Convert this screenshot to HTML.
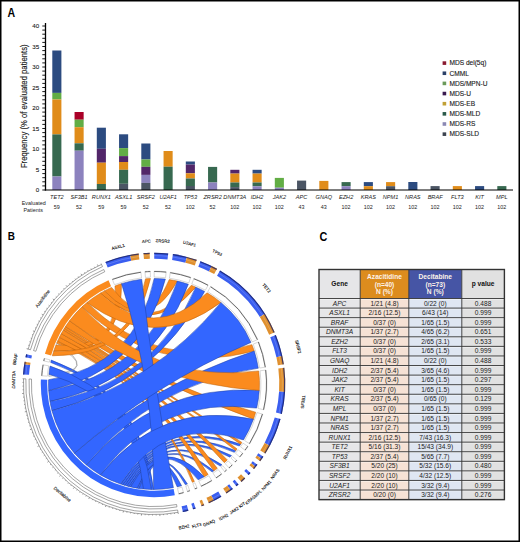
<!DOCTYPE html>
<html><head><meta charset="utf-8"><style>
html,body{margin:0;padding:0;background:#fff;}
#c{position:relative;width:520px;height:542px;overflow:hidden;background:#fff;}
svg{display:block;font-family:"Liberation Sans", sans-serif;}
</style></head><body><div id="c">
<svg width="520" height="542" viewBox="0 0 520 542">
<rect x="0" y="0" width="520" height="542" fill="#fff"/>
<text transform="translate(7.6,16.8) scale(0.88,1)" font-size="12" font-weight="bold" fill="#000">A</text>
<rect x="52.30" y="50.50" width="9.1" height="42.40" fill="#2c4b80"/>
<rect x="52.30" y="92.90" width="9.1" height="6.60" fill="#62ad45"/>
<rect x="52.30" y="99.50" width="9.1" height="34.90" fill="#e08c1a"/>
<rect x="52.30" y="134.40" width="9.1" height="42.10" fill="#376950"/>
<rect x="52.30" y="176.50" width="9.1" height="13.50" fill="#8c82be"/>
<text x="56.85" y="199" font-size="5.6" font-style="italic" text-anchor="middle" fill="#222">TET2</text>
<text x="56.85" y="209" font-size="5.4" text-anchor="middle" fill="#222">59</text>
<rect x="74.55" y="112.00" width="9.1" height="7.70" fill="#aa0028"/>
<rect x="74.55" y="119.70" width="9.1" height="7.50" fill="#62ad45"/>
<rect x="74.55" y="127.20" width="9.1" height="16.10" fill="#e08c1a"/>
<rect x="74.55" y="143.30" width="9.1" height="7.40" fill="#376950"/>
<rect x="74.55" y="150.70" width="9.1" height="39.30" fill="#8c82be"/>
<text x="79.10" y="199" font-size="5.6" font-style="italic" text-anchor="middle" fill="#222">SF3B1</text>
<text x="79.10" y="209" font-size="5.4" text-anchor="middle" fill="#222">52</text>
<rect x="96.80" y="127.70" width="9.1" height="21.10" fill="#2c4b80"/>
<rect x="96.80" y="148.80" width="9.1" height="13.90" fill="#522669"/>
<rect x="96.80" y="162.70" width="9.1" height="21.30" fill="#e08c1a"/>
<rect x="96.80" y="184.00" width="9.1" height="6.00" fill="#376950"/>
<text x="101.35" y="199" font-size="5.6" font-style="italic" text-anchor="middle" fill="#222">RUNX1</text>
<text x="101.35" y="209" font-size="5.4" text-anchor="middle" fill="#222">59</text>
<rect x="119.05" y="134.30" width="9.1" height="13.80" fill="#2c4b80"/>
<rect x="119.05" y="148.10" width="9.1" height="8.00" fill="#62ad45"/>
<rect x="119.05" y="156.10" width="9.1" height="5.90" fill="#522669"/>
<rect x="119.05" y="162.00" width="9.1" height="7.80" fill="#e08c1a"/>
<rect x="119.05" y="169.80" width="9.1" height="14.00" fill="#376950"/>
<rect x="119.05" y="183.80" width="9.1" height="6.20" fill="#4b5564"/>
<text x="123.60" y="199" font-size="5.6" font-style="italic" text-anchor="middle" fill="#222">ASXL1</text>
<text x="123.60" y="209" font-size="5.4" text-anchor="middle" fill="#222">59</text>
<rect x="141.30" y="143.50" width="9.1" height="16.00" fill="#2c4b80"/>
<rect x="141.30" y="159.50" width="9.1" height="7.30" fill="#62ad45"/>
<rect x="141.30" y="166.80" width="9.1" height="8.10" fill="#522669"/>
<rect x="141.30" y="174.90" width="9.1" height="8.00" fill="#8c82be"/>
<rect x="141.30" y="182.90" width="9.1" height="7.10" fill="#4b5564"/>
<text x="145.85" y="199" font-size="5.6" font-style="italic" text-anchor="middle" fill="#222">SRSF2</text>
<text x="145.85" y="209" font-size="5.4" text-anchor="middle" fill="#222">52</text>
<rect x="163.55" y="151.00" width="9.1" height="15.70" fill="#e08c1a"/>
<rect x="163.55" y="166.70" width="9.1" height="23.30" fill="#376950"/>
<text x="168.10" y="199" font-size="5.6" font-style="italic" text-anchor="middle" fill="#222">U2AF1</text>
<text x="168.10" y="209" font-size="5.4" text-anchor="middle" fill="#222">52</text>
<rect x="185.80" y="161.50" width="9.1" height="3.10" fill="#2c4b80"/>
<rect x="185.80" y="164.60" width="9.1" height="8.70" fill="#522669"/>
<rect x="185.80" y="173.30" width="9.1" height="5.20" fill="#e08c1a"/>
<rect x="185.80" y="178.50" width="9.1" height="7.50" fill="#376950"/>
<rect x="185.80" y="186.00" width="9.1" height="4.00" fill="#4b5564"/>
<text x="190.35" y="199" font-size="5.6" font-style="italic" text-anchor="middle" fill="#222">TP53</text>
<text x="190.35" y="209" font-size="5.4" text-anchor="middle" fill="#222">102</text>
<rect x="208.05" y="166.90" width="9.1" height="15.60" fill="#376950"/>
<rect x="208.05" y="182.50" width="9.1" height="7.50" fill="#8c82be"/>
<text x="212.60" y="199" font-size="5.6" font-style="italic" text-anchor="middle" fill="#222">ZRSR2</text>
<text x="212.60" y="209" font-size="5.4" text-anchor="middle" fill="#222">52</text>
<rect x="230.30" y="169.80" width="9.1" height="3.80" fill="#522669"/>
<rect x="230.30" y="173.60" width="9.1" height="8.90" fill="#e08c1a"/>
<rect x="230.30" y="182.50" width="9.1" height="4.60" fill="#376950"/>
<rect x="230.30" y="187.10" width="9.1" height="2.90" fill="#4b5564"/>
<text x="234.85" y="199" font-size="5.6" font-style="italic" text-anchor="middle" fill="#222">DNMT3A</text>
<text x="234.85" y="209" font-size="5.4" text-anchor="middle" fill="#222">102</text>
<rect x="252.55" y="169.80" width="9.1" height="3.80" fill="#2c4b80"/>
<rect x="252.55" y="173.60" width="9.1" height="8.90" fill="#e08c1a"/>
<rect x="252.55" y="182.50" width="9.1" height="3.80" fill="#376950"/>
<rect x="252.55" y="186.30" width="9.1" height="3.70" fill="#8c82be"/>
<text x="257.10" y="199" font-size="5.6" font-style="italic" text-anchor="middle" fill="#222">IDH2</text>
<text x="257.10" y="209" font-size="5.4" text-anchor="middle" fill="#222">102</text>
<rect x="274.80" y="177.90" width="9.1" height="9.80" fill="#62ad45"/>
<rect x="274.80" y="187.70" width="9.1" height="2.30" fill="#8c82be"/>
<text x="279.35" y="199" font-size="5.6" font-style="italic" text-anchor="middle" fill="#222">JAK2</text>
<text x="279.35" y="209" font-size="5.4" text-anchor="middle" fill="#222">102</text>
<rect x="297.05" y="180.60" width="9.1" height="9.40" fill="#4b5564"/>
<text x="301.60" y="199" font-size="5.6" font-style="italic" text-anchor="middle" fill="#222">APC</text>
<text x="301.60" y="209" font-size="5.4" text-anchor="middle" fill="#222">43</text>
<rect x="319.30" y="180.90" width="9.1" height="9.10" fill="#e08c1a"/>
<text x="323.85" y="199" font-size="5.6" font-style="italic" text-anchor="middle" fill="#222">GNAQ</text>
<text x="323.85" y="209" font-size="5.4" text-anchor="middle" fill="#222">43</text>
<rect x="341.55" y="182.10" width="9.1" height="4.10" fill="#376950"/>
<rect x="341.55" y="186.20" width="9.1" height="3.80" fill="#8c82be"/>
<text x="346.10" y="199" font-size="5.6" font-style="italic" text-anchor="middle" fill="#222">EZH2</text>
<text x="346.10" y="209" font-size="5.4" text-anchor="middle" fill="#222">102</text>
<rect x="363.80" y="182.10" width="9.1" height="4.10" fill="#2c4b80"/>
<rect x="363.80" y="186.20" width="9.1" height="3.80" fill="#e08c1a"/>
<text x="368.35" y="199" font-size="5.6" font-style="italic" text-anchor="middle" fill="#222">KRAS</text>
<text x="368.35" y="209" font-size="5.4" text-anchor="middle" fill="#222">102</text>
<rect x="386.05" y="182.10" width="9.1" height="4.10" fill="#e08c1a"/>
<rect x="386.05" y="186.20" width="9.1" height="3.80" fill="#4b5564"/>
<text x="390.60" y="199" font-size="5.6" font-style="italic" text-anchor="middle" fill="#222">NPM1</text>
<text x="390.60" y="209" font-size="5.4" text-anchor="middle" fill="#222">102</text>
<rect x="408.30" y="182.00" width="9.1" height="8.00" fill="#2c4b80"/>
<text x="412.85" y="199" font-size="5.6" font-style="italic" text-anchor="middle" fill="#222">NRAS</text>
<text x="412.85" y="209" font-size="5.4" text-anchor="middle" fill="#222">102</text>
<rect x="430.55" y="186.10" width="9.1" height="3.90" fill="#4b5564"/>
<text x="435.10" y="199" font-size="5.6" font-style="italic" text-anchor="middle" fill="#222">BRAF</text>
<text x="435.10" y="209" font-size="5.4" text-anchor="middle" fill="#222">102</text>
<rect x="452.80" y="186.10" width="9.1" height="3.90" fill="#e08c1a"/>
<text x="457.35" y="199" font-size="5.6" font-style="italic" text-anchor="middle" fill="#222">FLT3</text>
<text x="457.35" y="209" font-size="5.4" text-anchor="middle" fill="#222">102</text>
<rect x="475.05" y="186.10" width="9.1" height="3.90" fill="#2c4b80"/>
<text x="479.60" y="199" font-size="5.6" font-style="italic" text-anchor="middle" fill="#222">KIT</text>
<text x="479.60" y="209" font-size="5.4" text-anchor="middle" fill="#222">102</text>
<rect x="497.30" y="186.10" width="9.1" height="3.90" fill="#376950"/>
<text x="501.85" y="199" font-size="5.6" font-style="italic" text-anchor="middle" fill="#222">MPL</text>
<text x="501.85" y="209" font-size="5.4" text-anchor="middle" fill="#222">102</text>
<line x1="45.5" y1="23" x2="45.5" y2="190.5" stroke="#000" stroke-width="1.3"/>
<line x1="44.8" y1="190" x2="513" y2="190" stroke="#000" stroke-width="1.1"/>
<line x1="42.3" y1="190.00" x2="45.5" y2="190.00" stroke="#000" stroke-width="0.9"/>
<text x="39.1" y="192.10" font-size="6.2" text-anchor="end" fill="#1a1a1a" stroke="#1a1a1a" stroke-width="0.1">0</text>
<line x1="42.3" y1="185.90" x2="45.5" y2="185.90" stroke="#000" stroke-width="0.9"/>
<line x1="42.3" y1="181.80" x2="45.5" y2="181.80" stroke="#000" stroke-width="0.9"/>
<line x1="42.3" y1="177.70" x2="45.5" y2="177.70" stroke="#000" stroke-width="0.9"/>
<line x1="42.3" y1="173.60" x2="45.5" y2="173.60" stroke="#000" stroke-width="0.9"/>
<line x1="42.3" y1="169.50" x2="45.5" y2="169.50" stroke="#000" stroke-width="0.9"/>
<text x="39.1" y="171.60" font-size="6.2" text-anchor="end" fill="#1a1a1a" stroke="#1a1a1a" stroke-width="0.1">5</text>
<line x1="42.3" y1="165.40" x2="45.5" y2="165.40" stroke="#000" stroke-width="0.9"/>
<line x1="42.3" y1="161.30" x2="45.5" y2="161.30" stroke="#000" stroke-width="0.9"/>
<line x1="42.3" y1="157.20" x2="45.5" y2="157.20" stroke="#000" stroke-width="0.9"/>
<line x1="42.3" y1="153.10" x2="45.5" y2="153.10" stroke="#000" stroke-width="0.9"/>
<line x1="42.3" y1="149.00" x2="45.5" y2="149.00" stroke="#000" stroke-width="0.9"/>
<text x="39.1" y="151.10" font-size="6.2" text-anchor="end" fill="#1a1a1a" stroke="#1a1a1a" stroke-width="0.1">10</text>
<line x1="42.3" y1="144.90" x2="45.5" y2="144.90" stroke="#000" stroke-width="0.9"/>
<line x1="42.3" y1="140.80" x2="45.5" y2="140.80" stroke="#000" stroke-width="0.9"/>
<line x1="42.3" y1="136.70" x2="45.5" y2="136.70" stroke="#000" stroke-width="0.9"/>
<line x1="42.3" y1="132.60" x2="45.5" y2="132.60" stroke="#000" stroke-width="0.9"/>
<line x1="42.3" y1="128.50" x2="45.5" y2="128.50" stroke="#000" stroke-width="0.9"/>
<text x="39.1" y="130.60" font-size="6.2" text-anchor="end" fill="#1a1a1a" stroke="#1a1a1a" stroke-width="0.1">15</text>
<line x1="42.3" y1="124.40" x2="45.5" y2="124.40" stroke="#000" stroke-width="0.9"/>
<line x1="42.3" y1="120.30" x2="45.5" y2="120.30" stroke="#000" stroke-width="0.9"/>
<line x1="42.3" y1="116.20" x2="45.5" y2="116.20" stroke="#000" stroke-width="0.9"/>
<line x1="42.3" y1="112.10" x2="45.5" y2="112.10" stroke="#000" stroke-width="0.9"/>
<line x1="42.3" y1="108.00" x2="45.5" y2="108.00" stroke="#000" stroke-width="0.9"/>
<text x="39.1" y="110.10" font-size="6.2" text-anchor="end" fill="#1a1a1a" stroke="#1a1a1a" stroke-width="0.1">20</text>
<line x1="42.3" y1="103.90" x2="45.5" y2="103.90" stroke="#000" stroke-width="0.9"/>
<line x1="42.3" y1="99.80" x2="45.5" y2="99.80" stroke="#000" stroke-width="0.9"/>
<line x1="42.3" y1="95.70" x2="45.5" y2="95.70" stroke="#000" stroke-width="0.9"/>
<line x1="42.3" y1="91.60" x2="45.5" y2="91.60" stroke="#000" stroke-width="0.9"/>
<line x1="42.3" y1="87.50" x2="45.5" y2="87.50" stroke="#000" stroke-width="0.9"/>
<text x="39.1" y="89.60" font-size="6.2" text-anchor="end" fill="#1a1a1a" stroke="#1a1a1a" stroke-width="0.1">25</text>
<line x1="42.3" y1="83.40" x2="45.5" y2="83.40" stroke="#000" stroke-width="0.9"/>
<line x1="42.3" y1="79.30" x2="45.5" y2="79.30" stroke="#000" stroke-width="0.9"/>
<line x1="42.3" y1="75.20" x2="45.5" y2="75.20" stroke="#000" stroke-width="0.9"/>
<line x1="42.3" y1="71.10" x2="45.5" y2="71.10" stroke="#000" stroke-width="0.9"/>
<line x1="42.3" y1="67.00" x2="45.5" y2="67.00" stroke="#000" stroke-width="0.9"/>
<text x="39.1" y="69.10" font-size="6.2" text-anchor="end" fill="#1a1a1a" stroke="#1a1a1a" stroke-width="0.1">30</text>
<line x1="42.3" y1="62.90" x2="45.5" y2="62.90" stroke="#000" stroke-width="0.9"/>
<line x1="42.3" y1="58.80" x2="45.5" y2="58.80" stroke="#000" stroke-width="0.9"/>
<line x1="42.3" y1="54.70" x2="45.5" y2="54.70" stroke="#000" stroke-width="0.9"/>
<line x1="42.3" y1="50.60" x2="45.5" y2="50.60" stroke="#000" stroke-width="0.9"/>
<line x1="42.3" y1="46.50" x2="45.5" y2="46.50" stroke="#000" stroke-width="0.9"/>
<text x="39.1" y="48.60" font-size="6.2" text-anchor="end" fill="#1a1a1a" stroke="#1a1a1a" stroke-width="0.1">35</text>
<line x1="42.3" y1="42.40" x2="45.5" y2="42.40" stroke="#000" stroke-width="0.9"/>
<line x1="42.3" y1="38.30" x2="45.5" y2="38.30" stroke="#000" stroke-width="0.9"/>
<line x1="42.3" y1="34.20" x2="45.5" y2="34.20" stroke="#000" stroke-width="0.9"/>
<line x1="42.3" y1="30.10" x2="45.5" y2="30.10" stroke="#000" stroke-width="0.9"/>
<line x1="42.3" y1="26.00" x2="45.5" y2="26.00" stroke="#000" stroke-width="0.9"/>
<text x="39.1" y="28.10" font-size="6.2" text-anchor="end" fill="#1a1a1a" stroke="#1a1a1a" stroke-width="0.1">40</text>
<text transform="translate(26.6,106.25) rotate(-90)" font-size="9.3" text-anchor="middle" textLength="123.7" lengthAdjust="spacingAndGlyphs" fill="#1a1a1a" stroke="#1a1a1a" stroke-width="0.15">Frequency (% of evaluated patients)</text>
<text x="33.7" y="204.8" font-size="5.4" text-anchor="middle" fill="#222">Evaluated</text>
<text x="33.2" y="211.6" font-size="5.4" text-anchor="middle" fill="#222">Patients</text>
<rect x="442.6" y="61.30" width="3.6" height="3.6" fill="#8a1a30"/>
<text x="449.4" y="65.40" font-size="6.6" fill="#1a1a1a" stroke="#1a1a1a" stroke-width="0.12">MDS del(5q)</text>
<rect x="442.6" y="71.45" width="3.6" height="3.6" fill="#2a4068"/>
<text x="449.4" y="75.55" font-size="6.6" fill="#1a1a1a" stroke="#1a1a1a" stroke-width="0.12">CMML</text>
<rect x="442.6" y="81.60" width="3.6" height="3.6" fill="#6a9a5a"/>
<text x="449.4" y="85.70" font-size="6.6" fill="#1a1a1a" stroke="#1a1a1a" stroke-width="0.12">MDS/MPN-U</text>
<rect x="442.6" y="91.75" width="3.6" height="3.6" fill="#3a1a50"/>
<text x="449.4" y="95.85" font-size="6.6" fill="#1a1a1a" stroke="#1a1a1a" stroke-width="0.12">MDS-U</text>
<rect x="442.6" y="101.90" width="3.6" height="3.6" fill="#c0a035"/>
<text x="449.4" y="106.00" font-size="6.6" fill="#1a1a1a" stroke="#1a1a1a" stroke-width="0.12">MDS-EB</text>
<rect x="442.6" y="112.05" width="3.6" height="3.6" fill="#2a5a4a"/>
<text x="449.4" y="116.15" font-size="6.6" fill="#1a1a1a" stroke="#1a1a1a" stroke-width="0.12">MDS-MLD</text>
<rect x="442.6" y="122.20" width="3.6" height="3.6" fill="#8a88b4"/>
<text x="449.4" y="126.30" font-size="6.6" fill="#1a1a1a" stroke="#1a1a1a" stroke-width="0.12">MDS-RS</text>
<rect x="442.6" y="132.35" width="3.6" height="3.6" fill="#3c4450"/>
<text x="449.4" y="136.45" font-size="6.6" fill="#1a1a1a" stroke="#1a1a1a" stroke-width="0.12">MDS-SLD</text>
<text transform="translate(319.6,240.6) scale(0.87,1)" font-size="12.4" font-weight="bold" fill="#000">C</text>
<rect x="319.0" y="269.5" width="41.19999999999999" height="230.10000000000002" fill="#e6e6e8"/>
<rect x="360.2" y="269.5" width="48.60000000000002" height="29.0" fill="#dc8c1e"/>
<rect x="408.8" y="269.5" width="53.0" height="29.0" fill="#4655a5"/>
<rect x="461.8" y="269.5" width="42.599999999999966" height="230.10000000000002" fill="#e1e1e1"/>
<rect x="360.2" y="298.5" width="48.60000000000002" height="201.10000000000002" fill="#f6e2d5"/>
<rect x="408.8" y="298.5" width="53.0" height="201.10000000000002" fill="#dfe6f2"/>
<line x1="319.0" y1="299.40" x2="504.4" y2="299.40" stroke="#fff" stroke-width="0.6" opacity="0.8"/>
<line x1="319.0" y1="308.98" x2="504.4" y2="308.98" stroke="#fff" stroke-width="0.6" opacity="0.8"/>
<line x1="319.0" y1="318.55" x2="504.4" y2="318.55" stroke="#fff" stroke-width="0.6" opacity="0.8"/>
<line x1="319.0" y1="328.13" x2="504.4" y2="328.13" stroke="#fff" stroke-width="0.6" opacity="0.8"/>
<line x1="319.0" y1="337.70" x2="504.4" y2="337.70" stroke="#fff" stroke-width="0.6" opacity="0.8"/>
<line x1="319.0" y1="347.28" x2="504.4" y2="347.28" stroke="#fff" stroke-width="0.6" opacity="0.8"/>
<line x1="319.0" y1="356.86" x2="504.4" y2="356.86" stroke="#fff" stroke-width="0.6" opacity="0.8"/>
<line x1="319.0" y1="366.43" x2="504.4" y2="366.43" stroke="#fff" stroke-width="0.6" opacity="0.8"/>
<line x1="319.0" y1="376.01" x2="504.4" y2="376.01" stroke="#fff" stroke-width="0.6" opacity="0.8"/>
<line x1="319.0" y1="385.59" x2="504.4" y2="385.59" stroke="#fff" stroke-width="0.6" opacity="0.8"/>
<line x1="319.0" y1="395.16" x2="504.4" y2="395.16" stroke="#fff" stroke-width="0.6" opacity="0.8"/>
<line x1="319.0" y1="404.74" x2="504.4" y2="404.74" stroke="#fff" stroke-width="0.6" opacity="0.8"/>
<line x1="319.0" y1="414.31" x2="504.4" y2="414.31" stroke="#fff" stroke-width="0.6" opacity="0.8"/>
<line x1="319.0" y1="423.89" x2="504.4" y2="423.89" stroke="#fff" stroke-width="0.6" opacity="0.8"/>
<line x1="319.0" y1="433.47" x2="504.4" y2="433.47" stroke="#fff" stroke-width="0.6" opacity="0.8"/>
<line x1="319.0" y1="443.04" x2="504.4" y2="443.04" stroke="#fff" stroke-width="0.6" opacity="0.8"/>
<line x1="319.0" y1="452.62" x2="504.4" y2="452.62" stroke="#fff" stroke-width="0.6" opacity="0.8"/>
<line x1="319.0" y1="462.20" x2="504.4" y2="462.20" stroke="#fff" stroke-width="0.6" opacity="0.8"/>
<line x1="319.0" y1="471.77" x2="504.4" y2="471.77" stroke="#fff" stroke-width="0.6" opacity="0.8"/>
<line x1="319.0" y1="481.35" x2="504.4" y2="481.35" stroke="#fff" stroke-width="0.6" opacity="0.8"/>
<line x1="319.0" y1="490.92" x2="504.4" y2="490.92" stroke="#fff" stroke-width="0.6" opacity="0.8"/>
<line x1="319.0" y1="298.50" x2="504.4" y2="298.50" stroke="#333" stroke-width="0.9"/>
<line x1="319.0" y1="308.08" x2="504.4" y2="308.08" stroke="#333" stroke-width="0.9"/>
<line x1="319.0" y1="317.65" x2="504.4" y2="317.65" stroke="#333" stroke-width="0.9"/>
<line x1="319.0" y1="327.23" x2="504.4" y2="327.23" stroke="#333" stroke-width="0.9"/>
<line x1="319.0" y1="336.80" x2="504.4" y2="336.80" stroke="#333" stroke-width="0.9"/>
<line x1="319.0" y1="346.38" x2="504.4" y2="346.38" stroke="#333" stroke-width="0.9"/>
<line x1="319.0" y1="355.96" x2="504.4" y2="355.96" stroke="#333" stroke-width="0.9"/>
<line x1="319.0" y1="365.53" x2="504.4" y2="365.53" stroke="#333" stroke-width="0.9"/>
<line x1="319.0" y1="375.11" x2="504.4" y2="375.11" stroke="#333" stroke-width="0.9"/>
<line x1="319.0" y1="384.69" x2="504.4" y2="384.69" stroke="#333" stroke-width="0.9"/>
<line x1="319.0" y1="394.26" x2="504.4" y2="394.26" stroke="#333" stroke-width="0.9"/>
<line x1="319.0" y1="403.84" x2="504.4" y2="403.84" stroke="#333" stroke-width="0.9"/>
<line x1="319.0" y1="413.41" x2="504.4" y2="413.41" stroke="#333" stroke-width="0.9"/>
<line x1="319.0" y1="422.99" x2="504.4" y2="422.99" stroke="#333" stroke-width="0.9"/>
<line x1="319.0" y1="432.57" x2="504.4" y2="432.57" stroke="#333" stroke-width="0.9"/>
<line x1="319.0" y1="442.14" x2="504.4" y2="442.14" stroke="#333" stroke-width="0.9"/>
<line x1="319.0" y1="451.72" x2="504.4" y2="451.72" stroke="#333" stroke-width="0.9"/>
<line x1="319.0" y1="461.30" x2="504.4" y2="461.30" stroke="#333" stroke-width="0.9"/>
<line x1="319.0" y1="470.87" x2="504.4" y2="470.87" stroke="#333" stroke-width="0.9"/>
<line x1="319.0" y1="480.45" x2="504.4" y2="480.45" stroke="#333" stroke-width="0.9"/>
<line x1="319.0" y1="490.02" x2="504.4" y2="490.02" stroke="#333" stroke-width="0.9"/>
<line x1="319.0" y1="499.60" x2="504.4" y2="499.60" stroke="#333" stroke-width="0.9"/>
<line x1="360.2" y1="269.5" x2="360.2" y2="499.6" stroke="#333" stroke-width="0.9"/>
<line x1="408.8" y1="269.5" x2="408.8" y2="499.6" stroke="#333" stroke-width="0.9"/>
<line x1="461.8" y1="269.5" x2="461.8" y2="499.6" stroke="#333" stroke-width="0.9"/>
<rect x="319.0" y="269.5" width="185.39999999999998" height="230.10000000000002" fill="none" stroke="#333" stroke-width="1.4"/>
<text x="339.60" y="286.3" font-size="6.6" font-weight="bold" text-anchor="middle" fill="#111">Gene</text>
<text x="483.10" y="286.3" font-size="6.6" font-weight="bold" text-anchor="middle" fill="#111">p value</text>
<text x="384.50" y="278.60" font-size="6.6" font-weight="bold" text-anchor="middle" fill="#fdf3ea">Azacitidine</text>
<text x="384.50" y="286.50" font-size="6.6" font-weight="bold" text-anchor="middle" fill="#fdf3ea">(n=40)</text>
<text x="384.50" y="294.40" font-size="6.6" font-weight="bold" text-anchor="middle" fill="#fdf3ea">N (%)</text>
<text x="435.30" y="278.60" font-size="6.6" font-weight="bold" text-anchor="middle" fill="#fdf3ea">Decitabine</text>
<text x="435.30" y="286.50" font-size="6.6" font-weight="bold" text-anchor="middle" fill="#fdf3ea">(n=73)</text>
<text x="435.30" y="294.40" font-size="6.6" font-weight="bold" text-anchor="middle" fill="#fdf3ea">N (%)</text>
<text x="339.60" y="305.59" font-size="6.6" font-style="italic" text-anchor="middle" fill="#222">APC</text>
<text x="384.50" y="305.59" font-size="6.6" text-anchor="middle" fill="#222">1/21 (4.8)</text>
<text x="435.30" y="305.59" font-size="6.6" text-anchor="middle" fill="#222">0/22 (0)</text>
<text x="483.10" y="305.59" font-size="6.6" text-anchor="middle" fill="#222">0.488</text>
<text x="339.60" y="315.16" font-size="6.6" font-style="italic" text-anchor="middle" fill="#222">ASXL1</text>
<text x="384.50" y="315.16" font-size="6.6" text-anchor="middle" fill="#222">2/16 (12.5)</text>
<text x="435.30" y="315.16" font-size="6.6" text-anchor="middle" fill="#222">6/43 (14)</text>
<text x="483.10" y="315.16" font-size="6.6" text-anchor="middle" fill="#222">0.999</text>
<text x="339.60" y="324.74" font-size="6.6" font-style="italic" text-anchor="middle" fill="#222">BRAF</text>
<text x="384.50" y="324.74" font-size="6.6" text-anchor="middle" fill="#222">0/37 (0)</text>
<text x="435.30" y="324.74" font-size="6.6" text-anchor="middle" fill="#222">1/65 (1.5)</text>
<text x="483.10" y="324.74" font-size="6.6" text-anchor="middle" fill="#222">0.999</text>
<text x="339.60" y="334.32" font-size="6.6" font-style="italic" text-anchor="middle" fill="#222">DNMT3A</text>
<text x="384.50" y="334.32" font-size="6.6" text-anchor="middle" fill="#222">1/37 (2.7)</text>
<text x="435.30" y="334.32" font-size="6.6" text-anchor="middle" fill="#222">4/65 (6.2)</text>
<text x="483.10" y="334.32" font-size="6.6" text-anchor="middle" fill="#222">0.651</text>
<text x="339.60" y="343.89" font-size="6.6" font-style="italic" text-anchor="middle" fill="#222">EZH2</text>
<text x="384.50" y="343.89" font-size="6.6" text-anchor="middle" fill="#222">0/37 (0)</text>
<text x="435.30" y="343.89" font-size="6.6" text-anchor="middle" fill="#222">2/65 (3.1)</text>
<text x="483.10" y="343.89" font-size="6.6" text-anchor="middle" fill="#222">0.533</text>
<text x="339.60" y="353.47" font-size="6.6" font-style="italic" text-anchor="middle" fill="#222">FLT3</text>
<text x="384.50" y="353.47" font-size="6.6" text-anchor="middle" fill="#222">0/37 (0)</text>
<text x="435.30" y="353.47" font-size="6.6" text-anchor="middle" fill="#222">1/65 (1.5)</text>
<text x="483.10" y="353.47" font-size="6.6" text-anchor="middle" fill="#222">0.999</text>
<text x="339.60" y="363.05" font-size="6.6" font-style="italic" text-anchor="middle" fill="#222">GNAQ</text>
<text x="384.50" y="363.05" font-size="6.6" text-anchor="middle" fill="#222">1/21 (4.8)</text>
<text x="435.30" y="363.05" font-size="6.6" text-anchor="middle" fill="#222">0/22 (0)</text>
<text x="483.10" y="363.05" font-size="6.6" text-anchor="middle" fill="#222">0.488</text>
<text x="339.60" y="372.62" font-size="6.6" font-style="italic" text-anchor="middle" fill="#222">IDH2</text>
<text x="384.50" y="372.62" font-size="6.6" text-anchor="middle" fill="#222">2/37 (5.4)</text>
<text x="435.30" y="372.62" font-size="6.6" text-anchor="middle" fill="#222">3/65 (4.6)</text>
<text x="483.10" y="372.62" font-size="6.6" text-anchor="middle" fill="#222">0.999</text>
<text x="339.60" y="382.20" font-size="6.6" font-style="italic" text-anchor="middle" fill="#222">JAK2</text>
<text x="384.50" y="382.20" font-size="6.6" text-anchor="middle" fill="#222">2/37 (5.4)</text>
<text x="435.30" y="382.20" font-size="6.6" text-anchor="middle" fill="#222">1/65 (1.5)</text>
<text x="483.10" y="382.20" font-size="6.6" text-anchor="middle" fill="#222">0.297</text>
<text x="339.60" y="391.77" font-size="6.6" font-style="italic" text-anchor="middle" fill="#222">KIT</text>
<text x="384.50" y="391.77" font-size="6.6" text-anchor="middle" fill="#222">0/37 (0)</text>
<text x="435.30" y="391.77" font-size="6.6" text-anchor="middle" fill="#222">1/65 (1.5)</text>
<text x="483.10" y="391.77" font-size="6.6" text-anchor="middle" fill="#222">0.999</text>
<text x="339.60" y="401.35" font-size="6.6" font-style="italic" text-anchor="middle" fill="#222">KRAS</text>
<text x="384.50" y="401.35" font-size="6.6" text-anchor="middle" fill="#222">2/37 (5.4)</text>
<text x="435.30" y="401.35" font-size="6.6" text-anchor="middle" fill="#222">0/65 (0)</text>
<text x="483.10" y="401.35" font-size="6.6" text-anchor="middle" fill="#222">0.129</text>
<text x="339.60" y="410.93" font-size="6.6" font-style="italic" text-anchor="middle" fill="#222">MPL</text>
<text x="384.50" y="410.93" font-size="6.6" text-anchor="middle" fill="#222">0/37 (0)</text>
<text x="435.30" y="410.93" font-size="6.6" text-anchor="middle" fill="#222">1/65 (1.5)</text>
<text x="483.10" y="410.93" font-size="6.6" text-anchor="middle" fill="#222">0.999</text>
<text x="339.60" y="420.50" font-size="6.6" font-style="italic" text-anchor="middle" fill="#222">NPM1</text>
<text x="384.50" y="420.50" font-size="6.6" text-anchor="middle" fill="#222">1/37 (2.7)</text>
<text x="435.30" y="420.50" font-size="6.6" text-anchor="middle" fill="#222">1/65 (1.5)</text>
<text x="483.10" y="420.50" font-size="6.6" text-anchor="middle" fill="#222">0.999</text>
<text x="339.60" y="430.08" font-size="6.6" font-style="italic" text-anchor="middle" fill="#222">NRAS</text>
<text x="384.50" y="430.08" font-size="6.6" text-anchor="middle" fill="#222">1/37 (2.7)</text>
<text x="435.30" y="430.08" font-size="6.6" text-anchor="middle" fill="#222">1/65 (1.5)</text>
<text x="483.10" y="430.08" font-size="6.6" text-anchor="middle" fill="#222">0.999</text>
<text x="339.60" y="439.65" font-size="6.6" font-style="italic" text-anchor="middle" fill="#222">RUNX1</text>
<text x="384.50" y="439.65" font-size="6.6" text-anchor="middle" fill="#222">2/16 (12.5)</text>
<text x="435.30" y="439.65" font-size="6.6" text-anchor="middle" fill="#222">7/43 (16.3)</text>
<text x="483.10" y="439.65" font-size="6.6" text-anchor="middle" fill="#222">0.999</text>
<text x="339.60" y="449.23" font-size="6.6" font-style="italic" text-anchor="middle" fill="#222">TET2</text>
<text x="384.50" y="449.23" font-size="6.6" text-anchor="middle" fill="#222">5/16 (31.3)</text>
<text x="435.30" y="449.23" font-size="6.6" text-anchor="middle" fill="#222">15/43 (34.9)</text>
<text x="483.10" y="449.23" font-size="6.6" text-anchor="middle" fill="#222">0.999</text>
<text x="339.60" y="458.81" font-size="6.6" font-style="italic" text-anchor="middle" fill="#222">TP53</text>
<text x="384.50" y="458.81" font-size="6.6" text-anchor="middle" fill="#222">2/37 (5.4)</text>
<text x="435.30" y="458.81" font-size="6.6" text-anchor="middle" fill="#222">5/65 (7.7)</text>
<text x="483.10" y="458.81" font-size="6.6" text-anchor="middle" fill="#222">0.999</text>
<text x="339.60" y="468.38" font-size="6.6" font-style="italic" text-anchor="middle" fill="#222">SF3B1</text>
<text x="384.50" y="468.38" font-size="6.6" text-anchor="middle" fill="#222">5/20 (25)</text>
<text x="435.30" y="468.38" font-size="6.6" text-anchor="middle" fill="#222">5/32 (15.6)</text>
<text x="483.10" y="468.38" font-size="6.6" text-anchor="middle" fill="#222">0.480</text>
<text x="339.60" y="477.96" font-size="6.6" font-style="italic" text-anchor="middle" fill="#222">SRSF2</text>
<text x="384.50" y="477.96" font-size="6.6" text-anchor="middle" fill="#222">2/20 (10)</text>
<text x="435.30" y="477.96" font-size="6.6" text-anchor="middle" fill="#222">4/32 (12.5)</text>
<text x="483.10" y="477.96" font-size="6.6" text-anchor="middle" fill="#222">0.999</text>
<text x="339.60" y="487.54" font-size="6.6" font-style="italic" text-anchor="middle" fill="#222">U2AF1</text>
<text x="384.50" y="487.54" font-size="6.6" text-anchor="middle" fill="#222">2/20 (10)</text>
<text x="435.30" y="487.54" font-size="6.6" text-anchor="middle" fill="#222">3/32 (9.4)</text>
<text x="483.10" y="487.54" font-size="6.6" text-anchor="middle" fill="#222">0.999</text>
<text x="339.60" y="497.11" font-size="6.6" font-style="italic" text-anchor="middle" fill="#222">ZRSR2</text>
<text x="384.50" y="497.11" font-size="6.6" text-anchor="middle" fill="#222">0/20 (0)</text>
<text x="435.30" y="497.11" font-size="6.6" text-anchor="middle" fill="#222">3/32 (9.4)</text>
<text x="483.10" y="497.11" font-size="6.6" text-anchor="middle" fill="#222">0.276</text>
<text transform="translate(7.8,240) scale(0.86,1)" font-size="11.6" font-weight="bold" fill="#000">B</text>
<path d="M44.92,353.75A113.2,113.2 0 0 1 108.50,280.35L111.07,286.21A106.8,106.8 0 0 0 51.08,355.46Z" fill="#fb8b1e"/>
<path d="M174.82,495.27A113.2,113.2 0 0 1 40.89,379.46L47.29,379.71A106.8,106.8 0 0 0 173.65,488.98Z" fill="#3366ff"/>
<path d="M153.64,489.50A105.5,105.5 0 0 1 151.34,489.47Q140.23,394.90 50.73,362.43A105.5,105.5 0 0 1 51.25,360.09Q141.65,393.77 153.64,489.50Z" fill="#3366ff" stroke="#1f3f9f" stroke-width="0.5"/>
<path d="M139.12,488.44A105.5,105.5 0 0 1 137.04,488.13Q158.22,436.25 187.47,484.05A105.5,105.5 0 0 1 185.38,484.72Q158.24,436.75 139.12,488.44Z" fill="#3366ff" stroke="#1f3f9f" stroke-width="0.5"/>
<path d="M130.67,486.89A105.5,105.5 0 0 1 128.74,486.43Q162.33,429.44 213.94,470.82A105.5,105.5 0 0 1 212.23,471.97Q162.46,430.25 130.67,486.89Z" fill="#3366ff" stroke="#1f3f9f" stroke-width="0.5"/>
<path d="M128.74,486.43A105.5,105.5 0 0 1 126.70,485.91Q163.46,426.50 221.95,464.71A105.5,105.5 0 0 1 220.26,466.10Q163.65,427.46 128.74,486.43Z" fill="#3366ff" stroke="#1f3f9f" stroke-width="0.5"/>
<path d="M126.70,485.91A105.5,105.5 0 0 1 124.68,485.34Q164.67,422.28 231.53,455.55A105.5,105.5 0 0 1 230.02,457.15Q164.96,423.36 126.70,485.91Z" fill="#3366ff" stroke="#1f3f9f" stroke-width="0.5"/>
<path d="M124.68,485.34A105.5,105.5 0 0 1 122.66,484.74Q164.79,419.83 235.76,450.68A105.5,105.5 0 0 1 234.35,452.36Q165.12,420.97 124.68,485.34Z" fill="#3366ff" stroke="#1f3f9f" stroke-width="0.5"/>
<path d="M122.66,484.74A105.5,105.5 0 0 1 120.66,484.09Q164.87,416.71 240.63,444.21A105.5,105.5 0 0 1 239.36,446.00Q165.26,417.91 122.66,484.74Z" fill="#3366ff" stroke="#1f3f9f" stroke-width="0.5"/>
<path d="M56.00,344.94A105.5,105.5 0 0 1 56.75,343.10Q101.38,371.36 48.78,376.27A105.5,105.5 0 0 1 48.95,374.22Q101.09,371.27 56.00,344.94Z" fill="none" stroke="#808080" stroke-width="0.5"/>
<path d="M56.75,343.10A105.5,105.5 0 0 1 57.59,341.16Q154.00,384.00 194.36,481.47A105.5,105.5 0 0 1 192.33,482.29Q154.00,384.00 56.75,343.10Z" fill="#fb8b1e" stroke="#b8600a" stroke-width="0.5"/>
<path d="M63.25,330.20A105.5,105.5 0 0 1 64.34,328.39Q154.00,384.00 237.12,448.97A105.5,105.5 0 0 1 235.76,450.68Q154.00,384.00 63.25,330.20Z" fill="#fb8b1e" stroke="#b8600a" stroke-width="0.5"/>
<path d="M64.34,328.39A105.5,105.5 0 0 1 65.48,326.61Q154.00,384.00 241.86,442.40A105.5,105.5 0 0 1 240.63,444.21Q154.00,384.00 64.34,328.39Z" fill="#fb8b1e" stroke="#b8600a" stroke-width="0.5"/>
<path d="M143.44,488.97A105.5,105.5 0 0 1 139.12,488.44Q157.29,437.23 181.63,485.82A105.5,105.5 0 0 1 177.23,486.91Q157.29,438.03 143.44,488.97Z" fill="#3366ff" stroke="#1f3f9f" stroke-width="0.5"/>
<path d="M53.72,351.21A105.5,105.5 0 0 1 56.00,344.94Q120.84,350.82 114.99,285.98A105.5,105.5 0 0 1 121.49,283.64Q122.91,352.83 53.72,351.21Z" fill="#fb8b1e" stroke="#b8600a" stroke-width="0.5"/>
<path d="M57.59,341.16A105.5,105.5 0 0 1 59.44,337.22Q154.00,384.00 208.12,474.56A105.5,105.5 0 0 1 204.20,476.79Q154.00,384.00 57.59,341.16Z" fill="#fb8b1e" stroke="#b8600a" stroke-width="0.5"/>
<path d="M59.44,337.22A105.5,105.5 0 0 1 61.31,333.62Q154.00,384.00 217.34,468.37A105.5,105.5 0 0 1 213.94,470.82Q154.00,384.00 59.44,337.22Z" fill="#fb8b1e" stroke="#b8600a" stroke-width="0.5"/>
<path d="M61.31,333.62A105.5,105.5 0 0 1 63.25,330.20Q154.00,384.00 227.29,459.88A105.5,105.5 0 0 1 224.31,462.65Q154.00,384.00 61.31,333.62Z" fill="#fb8b1e" stroke="#b8600a" stroke-width="0.5"/>
<path d="M65.48,326.61A105.5,105.5 0 0 1 69.50,320.83Q154.00,384.00 255.66,412.19A105.5,105.5 0 0 1 253.47,419.15Q154.00,384.00 65.48,326.61Z" fill="#fb8b1e" stroke="#b8600a" stroke-width="0.5"/>
<path d="M82.02,306.87A105.5,105.5 0 0 1 87.00,302.51Q157.06,372.02 251.89,344.65A105.5,105.5 0 0 1 254.24,351.09Q155.69,377.41 82.02,306.87Z" fill="#fb8b1e" stroke="#b8600a" stroke-width="0.5"/>
<path d="M100.31,293.18A105.5,105.5 0 0 1 104.41,290.88Q151.05,337.99 191.29,285.31A105.5,105.5 0 0 1 195.80,287.13Q151.22,340.06 100.31,293.18Z" fill="#fb8b1e" stroke="#b8600a" stroke-width="0.5"/>
<path d="M104.41,290.88A105.5,105.5 0 0 1 111.59,287.40Q147.11,333.05 169.23,279.61A105.5,105.5 0 0 1 177.36,281.12Q147.52,335.56 104.41,290.88Z" fill="#fb8b1e" stroke="#b8600a" stroke-width="0.5"/>
<path d="M52.34,355.81A105.5,105.5 0 0 1 53.72,351.21Q130.58,354.29 145.54,278.84A105.5,105.5 0 0 1 150.50,278.56Q132.34,356.48 52.34,355.81Z" fill="#fb8b1e" stroke="#b8600a" stroke-width="0.5"/>
<path d="M137.04,488.13A105.5,105.5 0 0 1 130.67,486.89Q160.63,432.30 204.20,476.79A105.5,105.5 0 0 1 198.15,479.82Q160.86,434.43 137.04,488.13Z" fill="#3366ff" stroke="#1f3f9f" stroke-width="0.5"/>
<path d="M49.95,401.43A105.5,105.5 0 0 1 48.70,390.54Q145.43,373.92 177.36,281.12A105.5,105.5 0 0 1 188.35,284.25Q151.46,381.00 49.95,401.43Z" fill="#3366ff" stroke="#1f3f9f" stroke-width="0.5"/>
<path d="M48.70,390.54A105.5,105.5 0 0 1 48.58,379.77Q135.99,365.22 154.18,278.50A105.5,105.5 0 0 1 165.39,279.12Q141.58,370.99 48.70,390.54Z" fill="#3366ff" stroke="#1f3f9f" stroke-width="0.5"/>
<path d="M151.34,489.47A105.5,105.5 0 0 1 143.44,488.97Q134.80,399.81 48.95,374.22A105.5,105.5 0 0 1 50.04,366.04Q139.34,396.03 151.34,489.47Z" fill="#3366ff" stroke="#1f3f9f" stroke-width="0.5"/>
<path d="M86.46,465.04A105.5,105.5 0 0 1 74.38,453.21Q154.00,384.00 254.24,351.09A105.5,105.5 0 0 1 258.31,368.22Q154.00,384.00 86.46,465.04Z" fill="#3366ff" stroke="#1f3f9f" stroke-width="0.5"/>
<path d="M51.93,410.69A105.5,105.5 0 0 1 49.95,401.43Q153.72,383.64 195.80,287.13A105.5,105.5 0 0 1 204.66,291.46Q154.00,384.00 51.93,410.69Z" fill="#3366ff" stroke="#1f3f9f" stroke-width="0.5"/>
<path d="M100.52,474.94A105.5,105.5 0 0 1 86.46,465.04Q154.00,384.00 259.31,390.36A105.5,105.5 0 0 1 256.71,408.09Q158.94,395.55 100.52,474.94Z" fill="#3366ff" stroke="#1f3f9f" stroke-width="0.5"/>
<path d="M69.50,320.83A105.5,105.5 0 0 1 82.02,306.87Q154.00,384.00 258.69,370.96A105.5,105.5 0 0 1 259.31,390.36Q154.00,384.00 69.50,320.83Z" fill="#fb8b1e" stroke="#b8600a" stroke-width="0.5"/>
<path d="M87.00,302.51A105.5,105.5 0 0 1 100.31,293.18Q153.86,343.00 207.07,292.82A105.5,105.5 0 0 1 220.89,302.42Q153.98,352.46 87.00,302.51Z" fill="#fb8b1e" stroke="#b8600a" stroke-width="0.5"/>
<path d="M173.41,487.70A105.5,105.5 0 0 1 153.64,489.50Q154.00,384.00 121.49,283.64A105.5,105.5 0 0 1 141.69,279.22Q154.00,384.00 173.41,487.70Z" fill="#3366ff" stroke="#1f3f9f" stroke-width="0.5"/>
<path d="M120.66,484.09A105.5,105.5 0 0 1 100.52,474.94Q159.86,400.07 253.47,419.15A105.5,105.5 0 0 1 243.47,439.91Q165.14,414.95 120.66,484.09Z" fill="#3366ff" stroke="#1f3f9f" stroke-width="0.5"/>
<path d="M74.38,453.21A105.5,105.5 0 0 1 51.93,410.69Q154.00,384.00 220.89,302.42A105.5,105.5 0 0 1 250.97,342.44Q154.00,384.00 74.38,453.21Z" fill="#3366ff" stroke="#1f3f9f" stroke-width="0.5"/>
<path d="M112.26,279.10A112.9,112.9 0 0 1 140.83,271.87L141.53,277.83A106.9,106.9 0 0 0 114.47,284.68Z" fill="#fff" stroke="#b0b0b0" stroke-width="0.5"/>
<path d="M112.40,279.47A112.5,112.5 0 0 1 140.87,272.27" fill="none" stroke="#5a5a5a" stroke-width="0.9"/>
<path d="M144.95,271.46A112.9,112.9 0 0 1 150.26,271.16L150.46,277.16A106.9,106.9 0 0 0 145.43,277.44Z" fill="#fff" stroke="#b0b0b0" stroke-width="0.5"/>
<path d="M144.98,271.86A112.5,112.5 0 0 1 150.27,271.56" fill="none" stroke="#5a5a5a" stroke-width="0.9"/>
<path d="M154.20,271.10A112.9,112.9 0 0 1 166.19,271.76L165.55,277.73A106.9,106.9 0 0 0 154.19,277.10Z" fill="#fff" stroke="#b0b0b0" stroke-width="0.5"/>
<path d="M154.20,271.50A112.5,112.5 0 0 1 166.15,272.16" fill="none" stroke="#5a5a5a" stroke-width="0.9"/>
<path d="M170.30,272.28A112.9,112.9 0 0 1 190.76,277.25L188.80,282.92A106.9,106.9 0 0 0 169.43,278.22Z" fill="#fff" stroke="#b0b0b0" stroke-width="0.5"/>
<path d="M170.24,272.68A112.5,112.5 0 0 1 190.63,277.63" fill="none" stroke="#5a5a5a" stroke-width="0.9"/>
<path d="M193.91,278.39A112.9,112.9 0 0 1 208.22,284.97L205.34,290.23A106.9,106.9 0 0 0 191.79,284.00Z" fill="#fff" stroke="#b0b0b0" stroke-width="0.5"/>
<path d="M193.77,278.76A112.5,112.5 0 0 1 208.03,285.32" fill="none" stroke="#5a5a5a" stroke-width="0.9"/>
<path d="M210.79,286.42A112.9,112.9 0 0 1 257.77,339.52L252.26,341.89A106.9,106.9 0 0 0 207.77,291.61Z" fill="#fff" stroke="#b0b0b0" stroke-width="0.5"/>
<path d="M210.59,286.77A112.5,112.5 0 0 1 257.40,339.68" fill="none" stroke="#5a5a5a" stroke-width="0.9"/>
<path d="M258.75,341.89A112.9,112.9 0 0 1 265.63,367.12L259.70,368.01A106.9,106.9 0 0 0 253.19,344.13Z" fill="#fff" stroke="#b0b0b0" stroke-width="0.5"/>
<path d="M258.38,342.04A112.5,112.5 0 0 1 265.24,367.18" fill="none" stroke="#5a5a5a" stroke-width="0.9"/>
<path d="M266.03,370.05A112.9,112.9 0 0 1 263.92,409.78L258.08,408.41A106.9,106.9 0 0 0 260.08,370.79Z" fill="#fff" stroke="#b0b0b0" stroke-width="0.5"/>
<path d="M265.64,370.09A112.5,112.5 0 0 1 263.53,409.69" fill="none" stroke="#5a5a5a" stroke-width="0.9"/>
<path d="M262.79,414.17A112.9,112.9 0 0 1 249.74,443.83L244.66,440.65A106.9,106.9 0 0 0 257.01,412.57Z" fill="#fff" stroke="#b0b0b0" stroke-width="0.5"/>
<path d="M262.41,414.06A112.5,112.5 0 0 1 249.41,443.62" fill="none" stroke="#5a5a5a" stroke-width="0.9"/>
<path d="M248.03,446.49A112.9,112.9 0 0 1 245.35,450.35L240.49,446.82A106.9,106.9 0 0 0 243.03,443.17Z" fill="#fff" stroke="#b0b0b0" stroke-width="0.5"/>
<path d="M247.69,446.27A112.5,112.5 0 0 1 245.03,450.11" fill="none" stroke="#5a5a5a" stroke-width="0.9"/>
<path d="M242.95,453.52A112.9,112.9 0 0 1 239.99,457.16L235.42,453.27A106.9,106.9 0 0 0 238.23,449.83Z" fill="#fff" stroke="#b0b0b0" stroke-width="0.5"/>
<path d="M242.64,453.28A112.5,112.5 0 0 1 239.69,456.90" fill="none" stroke="#5a5a5a" stroke-width="0.9"/>
<path d="M236.97,460.57A112.9,112.9 0 0 1 235.36,462.28L231.03,458.12A106.9,106.9 0 0 0 232.56,456.50Z" fill="#fff" stroke="#b0b0b0" stroke-width="0.5"/>
<path d="M236.67,460.30A112.5,112.5 0 0 1 235.07,462.00" fill="none" stroke="#5a5a5a" stroke-width="0.9"/>
<path d="M232.43,465.21A112.9,112.9 0 0 1 229.24,468.17L225.25,463.70A106.9,106.9 0 0 0 228.27,460.89Z" fill="#fff" stroke="#b0b0b0" stroke-width="0.5"/>
<path d="M232.16,464.92A112.5,112.5 0 0 1 228.98,467.87" fill="none" stroke="#5a5a5a" stroke-width="0.9"/>
<path d="M226.71,470.37A112.9,112.9 0 0 1 224.90,471.86L221.14,467.19A106.9,106.9 0 0 0 222.85,465.78Z" fill="#fff" stroke="#b0b0b0" stroke-width="0.5"/>
<path d="M226.46,470.06A112.5,112.5 0 0 1 224.65,471.55" fill="none" stroke="#5a5a5a" stroke-width="0.9"/>
<path d="M221.79,474.28A112.9,112.9 0 0 1 216.31,478.15L213.00,473.14A106.9,106.9 0 0 0 218.18,469.49Z" fill="#fff" stroke="#b0b0b0" stroke-width="0.5"/>
<path d="M221.55,473.96A112.5,112.5 0 0 1 216.09,477.81" fill="none" stroke="#5a5a5a" stroke-width="0.9"/>
<path d="M211.91,480.92A112.9,112.9 0 0 1 201.25,486.54L198.74,481.09A106.9,106.9 0 0 0 208.83,475.77Z" fill="#fff" stroke="#b0b0b0" stroke-width="0.5"/>
<path d="M211.71,480.57A112.5,112.5 0 0 1 201.08,486.17" fill="none" stroke="#5a5a5a" stroke-width="0.9"/>
<path d="M197.20,488.31A112.9,112.9 0 0 1 195.02,489.18L192.84,483.59A106.9,106.9 0 0 0 194.90,482.77Z" fill="#fff" stroke="#b0b0b0" stroke-width="0.5"/>
<path d="M197.04,487.94A112.5,112.5 0 0 1 194.87,488.81" fill="none" stroke="#5a5a5a" stroke-width="0.9"/>
<path d="M189.81,491.07A112.9,112.9 0 0 1 187.58,491.79L185.80,486.06A106.9,106.9 0 0 0 187.91,485.38Z" fill="#fff" stroke="#b0b0b0" stroke-width="0.5"/>
<path d="M189.69,490.69A112.5,112.5 0 0 1 187.46,491.41" fill="none" stroke="#5a5a5a" stroke-width="0.9"/>
<path d="M183.57,492.96A112.9,112.9 0 0 1 178.85,494.13L177.53,488.28A106.9,106.9 0 0 0 182.00,487.17Z" fill="#fff" stroke="#b0b0b0" stroke-width="0.5"/>
<path d="M183.46,492.57A112.5,112.5 0 0 1 178.77,493.74" fill="none" stroke="#5a5a5a" stroke-width="0.9"/>
<path d="M41.40,375.73A112.9,112.9 0 0 1 42.75,364.78L48.66,365.80A106.9,106.9 0 0 0 47.39,376.17Z" fill="#fff" stroke="#b0b0b0" stroke-width="0.5"/>
<path d="M41.80,375.76A112.5,112.5 0 0 1 43.14,364.85" fill="none" stroke="#5a5a5a" stroke-width="0.9"/>
<path d="M43.49,360.91A112.9,112.9 0 0 1 44.04,358.41L49.88,359.77A106.9,106.9 0 0 0 49.36,362.14Z" fill="#fff" stroke="#b0b0b0" stroke-width="0.5"/>
<path d="M43.88,360.99A112.5,112.5 0 0 1 44.43,358.50" fill="none" stroke="#5a5a5a" stroke-width="0.9"/>
<path d="M105.45,262.00A131.3,131.3 0 0 1 130.19,254.88L131.27,260.78A125.3,125.3 0 0 0 107.67,267.58Z" fill="#3a5ef0"/>
<path d="M130.19,254.88A131.3,131.3 0 0 1 138.68,253.60L139.38,259.56A125.3,125.3 0 0 0 131.27,260.78Z" fill="#e0902e"/>
<path d="M106.52,264.70A128.4,128.4 0 0 1 139.02,256.48" fill="none" stroke="#ffffff" stroke-opacity="0.25" stroke-width="0.7"/>
<path d="M105.67,262.56A130.7,130.7 0 0 1 138.75,254.19" fill="none" stroke="#1a2266" stroke-opacity="0.8" stroke-width="1.2"/>
<path d="M143.47,253.12A131.3,131.3 0 0 1 149.65,252.77L149.85,258.77A125.3,125.3 0 0 0 143.95,259.10Z" fill="#e0902e"/>
<path d="M143.70,256.01A128.4,128.4 0 0 1 149.74,255.67" fill="none" stroke="#ffffff" stroke-opacity="0.25" stroke-width="0.7"/>
<path d="M143.52,253.72A130.7,130.7 0 0 1 149.67,253.37" fill="none" stroke="#1a2266" stroke-opacity="0.8" stroke-width="1.2"/>
<path d="M154.23,252.70A131.3,131.3 0 0 1 168.18,253.47L167.53,259.43A125.3,125.3 0 0 0 154.22,258.70Z" fill="#3a5ef0"/>
<path d="M154.22,255.60A128.4,128.4 0 0 1 167.87,256.35" fill="none" stroke="#ffffff" stroke-opacity="0.25" stroke-width="0.7"/>
<path d="M154.23,253.30A130.7,130.7 0 0 1 168.12,254.06" fill="none" stroke="#1a2266" stroke-opacity="0.8" stroke-width="1.2"/>
<path d="M172.95,254.08A131.3,131.3 0 0 1 186.89,256.89L185.39,262.69A125.3,125.3 0 0 0 172.09,260.01Z" fill="#3a5ef0"/>
<path d="M186.89,256.89A131.3,131.3 0 0 1 196.75,259.85L194.79,265.53A125.3,125.3 0 0 0 185.39,262.69Z" fill="#e0902e"/>
<path d="M172.54,256.94A128.4,128.4 0 0 1 195.80,262.60" fill="none" stroke="#ffffff" stroke-opacity="0.25" stroke-width="0.7"/>
<path d="M172.87,254.67A130.7,130.7 0 0 1 196.55,260.42" fill="none" stroke="#1a2266" stroke-opacity="0.8" stroke-width="1.2"/>
<path d="M200.41,261.18A131.3,131.3 0 0 1 211.68,266.05L209.05,271.44A125.3,125.3 0 0 0 198.29,266.79Z" fill="#3a5ef0"/>
<path d="M211.68,266.05A131.3,131.3 0 0 1 217.05,268.83L214.17,274.09A125.3,125.3 0 0 0 209.05,271.44Z" fill="#e0902e"/>
<path d="M199.39,263.89A128.4,128.4 0 0 1 215.66,271.37" fill="none" stroke="#ffffff" stroke-opacity="0.25" stroke-width="0.7"/>
<path d="M200.20,261.74A130.7,130.7 0 0 1 216.77,269.36" fill="none" stroke="#1a2266" stroke-opacity="0.8" stroke-width="1.2"/>
<path d="M220.05,270.52A131.3,131.3 0 0 1 264.92,313.74L259.85,316.95A125.3,125.3 0 0 0 217.03,275.71Z" fill="#3a5ef0"/>
<path d="M264.92,313.74A131.3,131.3 0 0 1 274.68,332.28L269.17,334.64A125.3,125.3 0 0 0 259.85,316.95Z" fill="#e0902e"/>
<path d="M218.59,273.03A128.4,128.4 0 0 1 272.02,333.42" fill="none" stroke="#ffffff" stroke-opacity="0.25" stroke-width="0.7"/>
<path d="M219.74,271.04A130.7,130.7 0 0 1 274.13,332.51" fill="none" stroke="#1a2266" stroke-opacity="0.8" stroke-width="1.2"/>
<path d="M275.82,335.03A131.3,131.3 0 0 1 282.27,355.98L276.41,357.26A125.3,125.3 0 0 0 270.26,337.26Z" fill="#3a5ef0"/>
<path d="M282.27,355.98A131.3,131.3 0 0 1 283.82,364.37L277.89,365.26A125.3,125.3 0 0 0 276.41,357.26Z" fill="#e0902e"/>
<path d="M273.13,336.11A128.4,128.4 0 0 1 280.96,364.80" fill="none" stroke="#ffffff" stroke-opacity="0.25" stroke-width="0.7"/>
<path d="M275.27,335.25A130.7,130.7 0 0 1 283.23,364.46" fill="none" stroke="#1a2266" stroke-opacity="0.8" stroke-width="1.2"/>
<path d="M284.29,367.77A131.3,131.3 0 0 1 285.06,391.92L279.07,391.55A125.3,125.3 0 0 0 278.34,368.51Z" fill="#e0902e"/>
<path d="M285.06,391.92A131.3,131.3 0 0 1 281.83,413.98L275.99,412.61A125.3,125.3 0 0 0 279.07,391.55Z" fill="#3a5ef0"/>
<path d="M281.42,368.13A128.4,128.4 0 0 1 279.01,413.32" fill="none" stroke="#ffffff" stroke-opacity="0.25" stroke-width="0.7"/>
<path d="M283.70,367.85A130.7,130.7 0 0 1 281.25,413.85" fill="none" stroke="#1a2266" stroke-opacity="0.8" stroke-width="1.2"/>
<path d="M280.52,419.09A131.3,131.3 0 0 1 269.89,445.72L264.59,442.90A125.3,125.3 0 0 0 274.74,417.48Z" fill="#3a5ef0"/>
<path d="M269.89,445.72A131.3,131.3 0 0 1 265.35,453.58L260.26,450.40A125.3,125.3 0 0 0 264.59,442.90Z" fill="#e0902e"/>
<path d="M277.73,418.31A128.4,128.4 0 0 1 262.89,452.04" fill="none" stroke="#ffffff" stroke-opacity="0.25" stroke-width="0.7"/>
<path d="M279.95,418.93A130.7,130.7 0 0 1 264.84,453.26" fill="none" stroke="#1a2266" stroke-opacity="0.8" stroke-width="1.2"/>
<path d="M263.35,456.68A131.3,131.3 0 0 1 261.82,458.93L256.89,455.51A125.3,125.3 0 0 0 258.35,453.36Z" fill="#3a5ef0"/>
<path d="M261.82,458.93A131.3,131.3 0 0 1 260.24,461.16L255.38,457.63A125.3,125.3 0 0 0 256.89,455.51Z" fill="#e0902e"/>
<path d="M260.93,455.07A128.4,128.4 0 0 1 257.89,459.45" fill="none" stroke="#ffffff" stroke-opacity="0.25" stroke-width="0.7"/>
<path d="M262.85,456.35A130.7,130.7 0 0 1 259.75,460.81" fill="none" stroke="#1a2266" stroke-opacity="0.8" stroke-width="1.2"/>
<path d="M257.45,464.85A131.3,131.3 0 0 1 255.75,466.99L251.10,463.19A125.3,125.3 0 0 0 252.72,461.16Z" fill="#3a5ef0"/>
<path d="M255.75,466.99A131.3,131.3 0 0 1 254.00,469.08L249.43,465.19A125.3,125.3 0 0 0 251.10,463.19Z" fill="#e0902e"/>
<path d="M255.17,463.07A128.4,128.4 0 0 1 251.80,467.20" fill="none" stroke="#ffffff" stroke-opacity="0.25" stroke-width="0.7"/>
<path d="M256.98,464.48A130.7,130.7 0 0 1 253.55,468.69" fill="none" stroke="#1a2266" stroke-opacity="0.8" stroke-width="1.2"/>
<path d="M250.49,473.05A131.3,131.3 0 0 1 248.62,475.04L244.29,470.88A125.3,125.3 0 0 0 246.08,468.98Z" fill="#3a5ef0"/>
<path d="M248.36,471.08A128.4,128.4 0 0 1 246.53,473.02" fill="none" stroke="#ffffff" stroke-opacity="0.25" stroke-width="0.7"/>
<path d="M250.05,472.64A130.7,130.7 0 0 1 248.18,474.62" fill="none" stroke="#1a2266" stroke-opacity="0.8" stroke-width="1.2"/>
<path d="M245.22,478.44A131.3,131.3 0 0 1 241.51,481.89L237.51,477.42A125.3,125.3 0 0 0 241.05,474.13Z" fill="#e0902e"/>
<path d="M243.20,476.36A128.4,128.4 0 0 1 239.57,479.73" fill="none" stroke="#ffffff" stroke-opacity="0.25" stroke-width="0.7"/>
<path d="M244.80,478.01A130.7,130.7 0 0 1 241.11,481.44" fill="none" stroke="#1a2266" stroke-opacity="0.8" stroke-width="1.2"/>
<path d="M238.56,484.44A131.3,131.3 0 0 1 236.46,486.18L232.69,481.51A125.3,125.3 0 0 0 234.70,479.85Z" fill="#3a5ef0"/>
<path d="M236.70,482.22A128.4,128.4 0 0 1 234.64,483.92" fill="none" stroke="#ffffff" stroke-opacity="0.25" stroke-width="0.7"/>
<path d="M238.18,483.98A130.7,130.7 0 0 1 236.08,485.71" fill="none" stroke="#1a2266" stroke-opacity="0.8" stroke-width="1.2"/>
<path d="M232.84,489.00A131.3,131.3 0 0 1 230.76,490.52L227.26,485.65A125.3,125.3 0 0 0 229.23,484.20Z" fill="#3a5ef0"/>
<path d="M230.76,490.52A131.3,131.3 0 0 1 226.47,493.49L223.16,488.49A125.3,125.3 0 0 0 227.26,485.65Z" fill="#e0902e"/>
<path d="M231.09,486.68A128.4,128.4 0 0 1 224.87,491.07" fill="none" stroke="#ffffff" stroke-opacity="0.25" stroke-width="0.7"/>
<path d="M232.47,488.52A130.7,130.7 0 0 1 226.14,492.99" fill="none" stroke="#1a2266" stroke-opacity="0.8" stroke-width="1.2"/>
<path d="M221.35,496.71A131.3,131.3 0 0 1 213.99,500.79L211.25,495.46A125.3,125.3 0 0 0 218.27,491.56Z" fill="#3a5ef0"/>
<path d="M213.99,500.79A131.3,131.3 0 0 1 208.95,503.25L206.44,497.80A125.3,125.3 0 0 0 211.25,495.46Z" fill="#e0902e"/>
<path d="M219.86,494.22A128.4,128.4 0 0 1 207.74,500.61" fill="none" stroke="#ffffff" stroke-opacity="0.25" stroke-width="0.7"/>
<path d="M221.04,496.20A130.7,130.7 0 0 1 208.70,502.70" fill="none" stroke="#1a2266" stroke-opacity="0.8" stroke-width="1.2"/>
<path d="M204.24,505.31A131.3,131.3 0 0 1 201.71,506.33L199.53,500.74A125.3,125.3 0 0 0 201.94,499.77Z" fill="#e0902e"/>
<path d="M203.13,502.63A128.4,128.4 0 0 1 200.65,503.63" fill="none" stroke="#ffffff" stroke-opacity="0.25" stroke-width="0.7"/>
<path d="M204.01,504.76A130.7,130.7 0 0 1 201.49,505.77" fill="none" stroke="#1a2266" stroke-opacity="0.8" stroke-width="1.2"/>
<path d="M195.65,508.52A131.3,131.3 0 0 1 193.06,509.36L191.27,503.63A125.3,125.3 0 0 0 193.75,502.83Z" fill="#3a5ef0"/>
<path d="M194.73,505.77A128.4,128.4 0 0 1 192.19,506.59" fill="none" stroke="#ffffff" stroke-opacity="0.25" stroke-width="0.7"/>
<path d="M195.46,507.95A130.7,130.7 0 0 1 192.88,508.78" fill="none" stroke="#1a2266" stroke-opacity="0.8" stroke-width="1.2"/>
<path d="M188.39,510.72A131.3,131.3 0 0 1 182.90,512.08L181.58,506.23A125.3,125.3 0 0 0 186.82,504.93Z" fill="#3a5ef0"/>
<path d="M187.63,507.92A128.4,128.4 0 0 1 182.27,509.25" fill="none" stroke="#ffffff" stroke-opacity="0.25" stroke-width="0.7"/>
<path d="M188.23,510.14A130.7,130.7 0 0 1 182.77,511.49" fill="none" stroke="#1a2266" stroke-opacity="0.8" stroke-width="1.2"/>
<path d="M23.05,374.38A131.3,131.3 0 0 1 24.20,364.18L30.14,365.09A125.3,125.3 0 0 0 29.04,374.82Z" fill="#3a5ef0"/>
<path d="M24.20,364.18A131.3,131.3 0 0 1 24.62,361.65L30.53,362.67A125.3,125.3 0 0 0 30.14,365.09Z" fill="#e0902e"/>
<path d="M25.94,374.60A128.4,128.4 0 0 1 27.47,362.15" fill="none" stroke="#ffffff" stroke-opacity="0.25" stroke-width="0.7"/>
<path d="M23.65,374.43A130.7,130.7 0 0 1 25.21,361.75" fill="none" stroke="#1a2266" stroke-opacity="0.8" stroke-width="1.2"/>
<path d="M25.47,357.15A131.3,131.3 0 0 1 26.12,354.24L31.96,355.60A125.3,125.3 0 0 0 31.35,358.38Z" fill="#3a5ef0"/>
<path d="M28.31,357.74A128.4,128.4 0 0 1 28.94,354.90" fill="none" stroke="#ffffff" stroke-opacity="0.25" stroke-width="0.7"/>
<path d="M26.06,357.27A130.7,130.7 0 0 1 26.70,354.38" fill="none" stroke="#1a2266" stroke-opacity="0.8" stroke-width="1.2"/>
<path d="M33.55,350.60A125.0,125.0 0 0 1 103.76,269.54L104.72,271.74A122.6,122.6 0 0 0 35.86,351.24Z" fill="#fff" stroke="#666" stroke-width="0.6"/>
<path d="M28.15,349.10A130.6,130.6 0 0 1 101.51,264.41L102.47,266.61A128.2,128.2 0 0 0 30.46,349.74Z" fill="#fff" stroke="#666" stroke-width="0.6"/>
<line x1="28.15" y1="349.10" x2="26.61" y2="348.67" stroke="#555" stroke-width="0.6"/>
<line x1="29.20" y1="345.51" x2="28.34" y2="345.25" stroke="#555" stroke-width="0.6"/>
<line x1="30.35" y1="341.96" x2="29.50" y2="341.67" stroke="#555" stroke-width="0.6"/>
<line x1="31.60" y1="338.44" x2="30.76" y2="338.13" stroke="#555" stroke-width="0.6"/>
<line x1="32.96" y1="334.96" x2="32.12" y2="334.62" stroke="#555" stroke-width="0.6"/>
<line x1="34.41" y1="331.52" x2="32.94" y2="330.88" stroke="#555" stroke-width="0.6"/>
<line x1="35.96" y1="328.12" x2="35.14" y2="327.74" stroke="#555" stroke-width="0.6"/>
<line x1="37.60" y1="324.77" x2="36.80" y2="324.36" stroke="#555" stroke-width="0.6"/>
<line x1="39.35" y1="321.46" x2="38.56" y2="321.03" stroke="#555" stroke-width="0.6"/>
<line x1="41.18" y1="318.21" x2="40.40" y2="317.76" stroke="#555" stroke-width="0.6"/>
<line x1="43.11" y1="315.01" x2="41.75" y2="314.17" stroke="#555" stroke-width="0.6"/>
<line x1="45.13" y1="311.87" x2="44.38" y2="311.37" stroke="#555" stroke-width="0.6"/>
<line x1="47.23" y1="308.78" x2="46.50" y2="308.27" stroke="#555" stroke-width="0.6"/>
<line x1="49.43" y1="305.76" x2="48.71" y2="305.22" stroke="#555" stroke-width="0.6"/>
<line x1="51.71" y1="302.80" x2="51.00" y2="302.24" stroke="#555" stroke-width="0.6"/>
<line x1="54.07" y1="299.91" x2="52.85" y2="298.88" stroke="#555" stroke-width="0.6"/>
<line x1="56.52" y1="297.09" x2="55.85" y2="296.49" stroke="#555" stroke-width="0.6"/>
<line x1="59.04" y1="294.34" x2="58.39" y2="293.72" stroke="#555" stroke-width="0.6"/>
<line x1="61.65" y1="291.66" x2="61.01" y2="291.02" stroke="#555" stroke-width="0.6"/>
<line x1="64.33" y1="289.05" x2="63.71" y2="288.40" stroke="#555" stroke-width="0.6"/>
<line x1="67.08" y1="286.53" x2="66.01" y2="285.33" stroke="#555" stroke-width="0.6"/>
<line x1="69.90" y1="284.08" x2="69.32" y2="283.39" stroke="#555" stroke-width="0.6"/>
<line x1="72.79" y1="281.72" x2="72.23" y2="281.01" stroke="#555" stroke-width="0.6"/>
<line x1="75.75" y1="279.44" x2="75.21" y2="278.72" stroke="#555" stroke-width="0.6"/>
<line x1="78.77" y1="277.24" x2="78.25" y2="276.51" stroke="#555" stroke-width="0.6"/>
<line x1="81.86" y1="275.14" x2="80.97" y2="273.80" stroke="#555" stroke-width="0.6"/>
<line x1="85.00" y1="273.12" x2="84.52" y2="272.35" stroke="#555" stroke-width="0.6"/>
<line x1="88.20" y1="271.19" x2="87.74" y2="270.41" stroke="#555" stroke-width="0.6"/>
<line x1="91.45" y1="269.35" x2="91.02" y2="268.56" stroke="#555" stroke-width="0.6"/>
<line x1="94.75" y1="267.61" x2="94.35" y2="266.81" stroke="#555" stroke-width="0.6"/>
<line x1="98.11" y1="265.96" x2="97.42" y2="264.52" stroke="#555" stroke-width="0.6"/>
<line x1="101.51" y1="264.41" x2="101.14" y2="263.59" stroke="#555" stroke-width="0.6"/>
<path d="M176.99,506.87A125.0,125.0 0 0 1 29.10,378.98L31.50,379.08A122.6,122.6 0 0 0 176.55,504.51Z" fill="#fff" stroke="#666" stroke-width="0.6"/>
<path d="M178.02,512.37A130.6,130.6 0 0 1 23.51,378.76L25.90,378.86A128.2,128.2 0 0 0 177.58,510.01Z" fill="#fff" stroke="#666" stroke-width="0.6"/>
<line x1="178.02" y1="512.37" x2="178.32" y2="513.94" stroke="#555" stroke-width="0.6"/>
<line x1="174.41" y1="512.99" x2="174.55" y2="513.88" stroke="#555" stroke-width="0.6"/>
<line x1="170.79" y1="513.52" x2="170.90" y2="514.41" stroke="#555" stroke-width="0.6"/>
<line x1="167.14" y1="513.94" x2="167.24" y2="514.83" stroke="#555" stroke-width="0.6"/>
<line x1="163.49" y1="514.25" x2="163.56" y2="515.15" stroke="#555" stroke-width="0.6"/>
<line x1="159.84" y1="514.47" x2="159.91" y2="516.07" stroke="#555" stroke-width="0.6"/>
<line x1="156.17" y1="514.58" x2="156.19" y2="515.48" stroke="#555" stroke-width="0.6"/>
<line x1="152.51" y1="514.59" x2="152.50" y2="515.49" stroke="#555" stroke-width="0.6"/>
<line x1="148.84" y1="514.50" x2="148.81" y2="515.40" stroke="#555" stroke-width="0.6"/>
<line x1="145.18" y1="514.30" x2="145.12" y2="515.20" stroke="#555" stroke-width="0.6"/>
<line x1="141.53" y1="514.00" x2="141.38" y2="515.60" stroke="#555" stroke-width="0.6"/>
<line x1="137.89" y1="513.60" x2="137.78" y2="514.50" stroke="#555" stroke-width="0.6"/>
<line x1="134.26" y1="513.10" x2="134.12" y2="513.99" stroke="#555" stroke-width="0.6"/>
<line x1="130.64" y1="512.49" x2="130.48" y2="513.38" stroke="#555" stroke-width="0.6"/>
<line x1="127.05" y1="511.79" x2="126.86" y2="512.67" stroke="#555" stroke-width="0.6"/>
<line x1="123.47" y1="510.98" x2="123.10" y2="512.54" stroke="#555" stroke-width="0.6"/>
<line x1="119.92" y1="510.08" x2="119.69" y2="510.94" stroke="#555" stroke-width="0.6"/>
<line x1="116.40" y1="509.07" x2="116.14" y2="509.93" stroke="#555" stroke-width="0.6"/>
<line x1="112.90" y1="507.97" x2="112.62" y2="508.82" stroke="#555" stroke-width="0.6"/>
<line x1="109.44" y1="506.76" x2="109.14" y2="507.61" stroke="#555" stroke-width="0.6"/>
<line x1="106.02" y1="505.47" x2="105.43" y2="506.95" stroke="#555" stroke-width="0.6"/>
<line x1="102.63" y1="504.07" x2="102.27" y2="504.90" stroke="#555" stroke-width="0.6"/>
<line x1="99.28" y1="502.58" x2="98.90" y2="503.40" stroke="#555" stroke-width="0.6"/>
<line x1="95.97" y1="501.00" x2="95.57" y2="501.81" stroke="#555" stroke-width="0.6"/>
<line x1="92.71" y1="499.33" x2="92.29" y2="500.12" stroke="#555" stroke-width="0.6"/>
<line x1="89.50" y1="497.56" x2="88.71" y2="498.95" stroke="#555" stroke-width="0.6"/>
<line x1="86.34" y1="495.71" x2="85.87" y2="496.48" stroke="#555" stroke-width="0.6"/>
<line x1="83.23" y1="493.76" x2="82.74" y2="494.52" stroke="#555" stroke-width="0.6"/>
<line x1="80.18" y1="491.74" x2="79.67" y2="492.48" stroke="#555" stroke-width="0.6"/>
<line x1="77.19" y1="489.62" x2="76.66" y2="490.35" stroke="#555" stroke-width="0.6"/>
<line x1="74.25" y1="487.43" x2="73.28" y2="488.69" stroke="#555" stroke-width="0.6"/>
<line x1="71.38" y1="485.15" x2="70.81" y2="485.84" stroke="#555" stroke-width="0.6"/>
<line x1="68.58" y1="482.79" x2="67.99" y2="483.47" stroke="#555" stroke-width="0.6"/>
<line x1="65.84" y1="480.35" x2="65.23" y2="481.02" stroke="#555" stroke-width="0.6"/>
<line x1="63.17" y1="477.84" x2="62.54" y2="478.49" stroke="#555" stroke-width="0.6"/>
<line x1="60.57" y1="475.26" x2="59.43" y2="476.37" stroke="#555" stroke-width="0.6"/>
<line x1="58.05" y1="472.60" x2="57.39" y2="473.21" stroke="#555" stroke-width="0.6"/>
<line x1="55.60" y1="469.87" x2="54.92" y2="470.46" stroke="#555" stroke-width="0.6"/>
<line x1="53.23" y1="467.08" x2="52.54" y2="467.65" stroke="#555" stroke-width="0.6"/>
<line x1="50.94" y1="464.22" x2="50.23" y2="464.77" stroke="#555" stroke-width="0.6"/>
<line x1="48.73" y1="461.29" x2="47.44" y2="462.24" stroke="#555" stroke-width="0.6"/>
<line x1="46.60" y1="458.31" x2="45.86" y2="458.82" stroke="#555" stroke-width="0.6"/>
<line x1="44.56" y1="455.27" x2="43.80" y2="455.76" stroke="#555" stroke-width="0.6"/>
<line x1="42.60" y1="452.17" x2="41.83" y2="452.64" stroke="#555" stroke-width="0.6"/>
<line x1="40.73" y1="449.02" x2="39.95" y2="449.46" stroke="#555" stroke-width="0.6"/>
<line x1="38.95" y1="445.81" x2="37.54" y2="446.57" stroke="#555" stroke-width="0.6"/>
<line x1="37.26" y1="442.56" x2="36.46" y2="442.96" stroke="#555" stroke-width="0.6"/>
<line x1="35.67" y1="439.26" x2="34.85" y2="439.64" stroke="#555" stroke-width="0.6"/>
<line x1="34.16" y1="435.92" x2="33.34" y2="436.28" stroke="#555" stroke-width="0.6"/>
<line x1="32.75" y1="432.54" x2="31.92" y2="432.87" stroke="#555" stroke-width="0.6"/>
<line x1="31.44" y1="429.12" x2="29.94" y2="429.67" stroke="#555" stroke-width="0.6"/>
<line x1="30.22" y1="425.66" x2="29.37" y2="425.95" stroke="#555" stroke-width="0.6"/>
<line x1="29.10" y1="422.17" x2="28.24" y2="422.43" stroke="#555" stroke-width="0.6"/>
<line x1="28.08" y1="418.65" x2="27.21" y2="418.89" stroke="#555" stroke-width="0.6"/>
<line x1="27.16" y1="415.10" x2="26.28" y2="415.32" stroke="#555" stroke-width="0.6"/>
<line x1="26.34" y1="411.53" x2="24.77" y2="411.87" stroke="#555" stroke-width="0.6"/>
<line x1="25.61" y1="407.94" x2="24.73" y2="408.10" stroke="#555" stroke-width="0.6"/>
<line x1="24.99" y1="404.33" x2="24.10" y2="404.47" stroke="#555" stroke-width="0.6"/>
<line x1="24.47" y1="400.70" x2="23.58" y2="400.82" stroke="#555" stroke-width="0.6"/>
<line x1="24.05" y1="397.06" x2="23.16" y2="397.15" stroke="#555" stroke-width="0.6"/>
<line x1="23.74" y1="393.41" x2="22.14" y2="393.52" stroke="#555" stroke-width="0.6"/>
<line x1="23.53" y1="389.75" x2="22.63" y2="389.79" stroke="#555" stroke-width="0.6"/>
<line x1="23.42" y1="386.09" x2="22.52" y2="386.10" stroke="#555" stroke-width="0.6"/>
<line x1="23.41" y1="382.42" x2="22.51" y2="382.41" stroke="#555" stroke-width="0.6"/>
<line x1="23.51" y1="378.76" x2="22.61" y2="378.72" stroke="#555" stroke-width="0.6"/>
<text transform="translate(118.10,246.80) rotate(-14.66)" font-size="4.3" text-anchor="middle" dominant-baseline="central" fill="#151515" stroke="#151515" stroke-width="0.12">ASXL1</text>
<text transform="translate(146.40,241.20) rotate(-3.05)" font-size="4.3" text-anchor="middle" dominant-baseline="central" fill="#151515" stroke="#151515" stroke-width="0.12">APC</text>
<text transform="translate(162.75,241.00) rotate(3.50)" font-size="4.3" text-anchor="middle" dominant-baseline="central" fill="#151515" stroke="#151515" stroke-width="0.12">ZRSR2</text>
<text transform="translate(189.50,243.80) rotate(14.21)" font-size="4.3" text-anchor="middle" dominant-baseline="central" fill="#151515" stroke="#151515" stroke-width="0.12">U2AF1</text>
<text transform="translate(217.30,252.70) rotate(25.74)" font-size="4.3" text-anchor="middle" dominant-baseline="central" fill="#151515" stroke="#151515" stroke-width="0.12">TP53</text>
<text transform="translate(266.50,288.00) rotate(49.52)" font-size="4.3" text-anchor="middle" dominant-baseline="central" fill="#151515" stroke="#151515" stroke-width="0.12">TET2</text>
<text transform="translate(298.10,346.80) rotate(75.52)" font-size="4.3" text-anchor="middle" dominant-baseline="central" fill="#151515" stroke="#151515" stroke-width="0.12">SRSF2</text>
<text transform="translate(303.00,402.00) rotate(-83.11)" font-size="4.3" text-anchor="middle" dominant-baseline="central" fill="#151515" stroke="#151515" stroke-width="0.12">SF3B1</text>
<text transform="translate(287.70,452.70) rotate(-62.80)" font-size="4.3" text-anchor="middle" dominant-baseline="central" fill="#151515" stroke="#151515" stroke-width="0.12">RUNX1</text>
<text transform="translate(275.00,474.00) rotate(-53.36)" font-size="4.3" text-anchor="middle" dominant-baseline="central" fill="#151515" stroke="#151515" stroke-width="0.12">NRAS</text>
<text transform="translate(266.50,485.40) rotate(-47.97)" font-size="4.3" text-anchor="middle" dominant-baseline="central" fill="#151515" stroke="#151515" stroke-width="0.12">NPM1</text>
<text transform="translate(258.00,493.50) rotate(-43.52)" font-size="4.3" text-anchor="middle" dominant-baseline="central" fill="#151515" stroke="#151515" stroke-width="0.12">MPL</text>
<text transform="translate(250.30,500.00) rotate(-39.70)" font-size="4.3" text-anchor="middle" dominant-baseline="central" fill="#151515" stroke="#151515" stroke-width="0.12">KRAS</text>
<text transform="translate(242.00,505.00) rotate(-36.03)" font-size="4.3" text-anchor="middle" dominant-baseline="central" fill="#151515" stroke="#151515" stroke-width="0.12">KIT</text>
<text transform="translate(234.20,510.40) rotate(-32.39)" font-size="4.3" text-anchor="middle" dominant-baseline="central" fill="#151515" stroke="#151515" stroke-width="0.12">JAK2</text>
<text transform="translate(223.50,517.00) rotate(-27.59)" font-size="4.3" text-anchor="middle" dominant-baseline="central" fill="#151515" stroke="#151515" stroke-width="0.12">IDH2</text>
<text transform="translate(209.00,523.00) rotate(-21.59)" font-size="4.3" text-anchor="middle" dominant-baseline="central" fill="#151515" stroke="#151515" stroke-width="0.12">GNAQ</text>
<text transform="translate(196.60,525.40) rotate(-16.77)" font-size="4.3" text-anchor="middle" dominant-baseline="central" fill="#151515" stroke="#151515" stroke-width="0.12">FLT3</text>
<text transform="translate(184.00,527.00) rotate(-11.85)" font-size="4.3" text-anchor="middle" dominant-baseline="central" fill="#151515" stroke="#151515" stroke-width="0.12">EZH2</text>
<text transform="translate(13.65,379.75) rotate(-88.27)" font-size="4.3" text-anchor="middle" dominant-baseline="central" fill="#151515" stroke="#151515" stroke-width="0.12">DNMT3A</text>
<text transform="translate(15.20,359.20) rotate(-79.87)" font-size="4.3" text-anchor="middle" dominant-baseline="central" fill="#151515" stroke="#151515" stroke-width="0.12">BRAF</text>
<text transform="translate(42.60,298.70) rotate(-52.60)" font-size="4.6" text-anchor="middle" dominant-baseline="central" textLength="21" lengthAdjust="spacingAndGlyphs" fill="#151515" stroke="#151515" stroke-width="0.12">Azacitidine</text>
<text transform="translate(62.20,494.20) rotate(39.80)" font-size="4.6" text-anchor="middle" dominant-baseline="central" textLength="21" lengthAdjust="spacingAndGlyphs" fill="#151515" stroke="#151515" stroke-width="0.12">Decitabine</text>
<rect x="0.75" y="0.75" width="518.5" height="540.5" fill="none" stroke="#000" stroke-width="1.5"/>
</svg></div></body></html>
